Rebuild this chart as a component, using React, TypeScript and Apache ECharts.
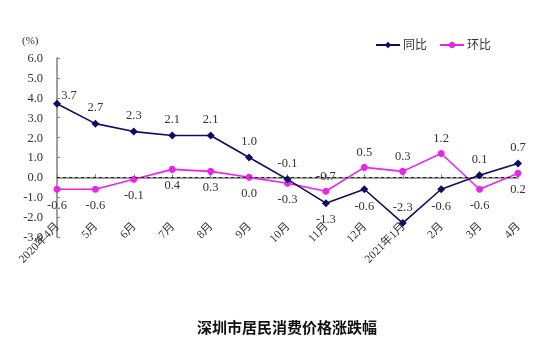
import React, { useEffect, useRef } from "react";
import * as echarts from "echarts";

const categories = ["2020年4月", "5月", "6月", "7月", "8月", "9月", "10月", "11月", "12月", "2021年1月", "2月", "3月", "4月"];
const yoyValues = [3.7, 2.7, 2.3, 2.1, 2.1, 1.0, -0.1, -1.3, -0.6, -2.3, -0.6, 0.1, 0.7];
const momValues = [-0.6, -0.6, -0.1, 0.4, 0.3, 0.0, -0.3, -0.7, 0.5, 0.3, 1.2, -0.6, 0.2];
const yoyLabelPos = ["top", "top", "top", "top", "top", "top", "top", "bottom", "bottom", "top", "bottom", "top", "top"];
const momLabelPos = ["bottom", "bottom", "bottom", "bottom", "bottom", "bottom", "bottom", "top", "top", "top", "top", "bottom", "bottom"];
const yTicks = { min: -3, max: 6, interval: 1 };
const seriesNames = ["同比", "环比"];
const titleText = "深圳市居民消费价格涨跌幅";
const unitText = "(%)";

const SERIF = "'Liberation Serif', 'DejaVu Serif', 'Noto Sans CJK SC', serif";

export default function App() {
  const ref = useRef<HTMLDivElement>(null);
  useEffect(() => {
    if (!ref.current) return;
    const chart = echarts.init(ref.current, null, { renderer: "svg" });
    const labelStyle = { fontFamily: SERIF, fontSize: 12.5, color: "#333" };
    const mkData = (vals: number[], pos: string[]) =>
      vals.map((v, i) => ({
        value: v,
        label: {
          position: pos[i],
          distance: 6,
          offset: i === 0 && pos === yoyLabelPos ? [12, 8] : [0, 0],
        },
      }));
    chart.setOption({
      animation: false,
      grid: { left: 57, right: 32, top: 58, bottom: 119, outerBoundsMode: "none" },
      legend: {
        left: 370,
        top: 34,
        itemWidth: 24,
        itemHeight: 8,
        itemGap: 12,
        textStyle: { fontFamily: SERIF, fontSize: 12, color: "#333", padding: [0, 0, 0, -2] },
        data: seriesNames,
      },
      xAxis: {
        type: "category",
        data: categories,
        boundaryGap: false,
        offset: -19.9,
        axisLine: { lineStyle: { color: "#808080", width: 1.5 } },
        axisTick: { inside: true, length: 3, lineStyle: { color: "#808080" } },
        axisLabel: { rotate: 45, margin: 7, fontFamily: SERIF, fontSize: 11.5, color: "#333" },
        splitLine: { show: false },
      },
      yAxis: {
        type: "value",
        min: yTicks.min,
        max: yTicks.max,
        interval: yTicks.interval,
        axisLine: { show: true, lineStyle: { color: "#808080", width: 1.5 } },
        axisTick: { show: true, inside: true, length: 3, lineStyle: { color: "#808080" } },
        axisLabel: {
          margin: 14,
          fontFamily: SERIF,
          fontSize: 12.5,
          color: "#333",
          formatter: (v: number) => v.toFixed(1),
        },
        splitLine: { show: false },
      },
      graphic: [
        {
          type: "text",
          left: 22,
          top: 34,
          style: { text: unitText, fontFamily: SERIF, fontSize: 11, fill: "#333" },
        },
        {
          type: "text",
          x: 287,
          y: 326,
          style: {
            text: titleText,
            fontFamily: "'Noto Sans CJK SC', sans-serif",
            fontWeight: "bold",
            fontSize: 15,
            fill: "#111",
            align: "center",
            verticalAlign: "middle",
          },
        },
      ],
      series: [
        {
          name: seriesNames[0],
          type: "line",
          data: mkData(yoyValues, yoyLabelPos),
          symbol: "diamond",
          symbolSize: 8,
          itemStyle: { color: "#0d0d66" },
          lineStyle: { color: "#0d0d66", width: 1.6 },
          label: { show: true, ...labelStyle, formatter: (p: any) => Number(p.value).toFixed(1) },
          z: 3,
        },
        {
          name: seriesNames[1],
          type: "line",
          data: mkData(momValues, momLabelPos),
          symbol: "circle",
          symbolSize: 7,
          itemStyle: { color: "#ee22ee" },
          lineStyle: { color: "#ee22ee", width: 1.6 },
          label: { show: true, ...labelStyle, formatter: (p: any) => Number(p.value).toFixed(1) },
          markLine: {
            silent: true,
            symbol: "none",
            label: { show: false },
            lineStyle: { color: "#000", type: [3, 3], width: 0.8 },
            data: [{ yAxis: 0 }],
          },
          z: 2,
        },
      ],
    });
    return () => chart.dispose();
  }, []);
  return <div ref={ref} style={{ position: "fixed", left: 0, top: 0, width: 550, height: 356 }} />;
}
